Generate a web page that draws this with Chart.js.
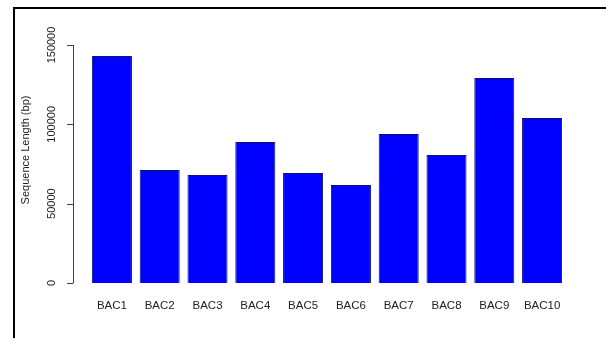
<!DOCTYPE html>
<html>
<head>
<meta charset="utf-8">
<script src="https://cdn.jsdelivr.net/npm/chart.js@4/dist/chart.umd.min.js"></script>
<style>
  html, body { margin: 0; padding: 0; background: #fff; }
  #wrap { position: relative; width: 606px; height: 338px; overflow: hidden; }
  #frame { position: absolute; left: 13px; top: 7px; right: -4px; bottom: -4px;
           border-top: 2px solid #000; border-left: 2px solid #000; }
  canvas { position: absolute; left: 0; top: 0; }
</style>
</head>
<body>
<div id="wrap">
  <div id="frame"></div>
  <canvas id="c" width="606" height="338"></canvas>
</div>
<script>
// BAC clone lengths
const categories = ['BAC1', 'BAC2', 'BAC3', 'BAC4', 'BAC5', 'BAC6', 'BAC7', 'BAC8', 'BAC9', 'BAC10'];
const lengths = [143000, 71200, 68000, 88900, 69300, 61800, 93900, 80700, 129200, 104000];
const yTicks = [0, 50000, 100000, 150000];
const yTitle = 'Sequence Length (bp)';

const FONT = 'Liberation Sans, Arial, Helvetica, sans-serif';

// R-style y axis: detached line, outward ticks, labels rotated parallel to the axis
const baseAxis = {
  id: 'baseAxis',
  afterDraw(chart) {
    const { ctx } = chart;
    const y = chart.scales.y;
    const axisX = 73;
    ctx.save();
    ctx.strokeStyle = '#444';
    ctx.lineWidth = 1;
    ctx.beginPath();
    ctx.moveTo(axisX + 0.5, y.getPixelForValue(yTicks[0]));
    ctx.lineTo(axisX + 0.5, y.getPixelForValue(yTicks[yTicks.length - 1]));
    yTicks.forEach(v => {
      const py = Math.round(y.getPixelForValue(v)) + 0.5;
      ctx.moveTo(axisX + 0.5, py);
      ctx.lineTo(axisX - 6, py);
    });
    ctx.stroke();

    ctx.fillStyle = '#222';
    ctx.font = '11px ' + FONT;
    ctx.textAlign = 'center';
    ctx.textBaseline = 'middle';
    yTicks.forEach(v => {
      ctx.save();
      ctx.translate(52, y.getPixelForValue(v));
      ctx.rotate(-Math.PI / 2);
      ctx.fillText(String(v), 0, 0);
      ctx.restore();
    });

    ctx.save();
    ctx.translate(26, 150);
    ctx.rotate(-Math.PI / 2);
    ctx.fillText(yTitle, 0, 0);
    ctx.restore();
    ctx.restore();
  }
};

new Chart(document.getElementById('c'), {
  type: 'bar',
  data: {
    labels: categories,
    datasets: [{
      data: lengths,
      backgroundColor: '#0000ff',
      borderColor: '#10107a',
      borderWidth: 1,
      barPercentage: 40 / 47.75,
      categoryPercentage: 1
    }]
  },
  options: {
    responsive: false,
    animation: false,
    devicePixelRatio: 1,
    layout: { padding: { left: 0, right: 40, top: 45, bottom: 25 } },
    plugins: { legend: { display: false }, tooltip: { enabled: false } },
    scales: {
      x: {
        grid: { display: false, drawTicks: false },
        border: { display: false },
        ticks: { color: '#222', font: { family: FONT, size: 11.5 }, padding: 16, maxRotation: 0, autoSkip: false },
        afterFit: s => { s.height = 30; }
      },
      y: {
        min: 0,
        max: 150000,
        grid: { display: false, drawTicks: false },
        border: { display: false },
        ticks: { display: false, stepSize: 50000 },
        afterFit: s => { s.width = 88; }
      }
    }
  },
  plugins: [baseAxis]
});
</script>
</body>
</html>
